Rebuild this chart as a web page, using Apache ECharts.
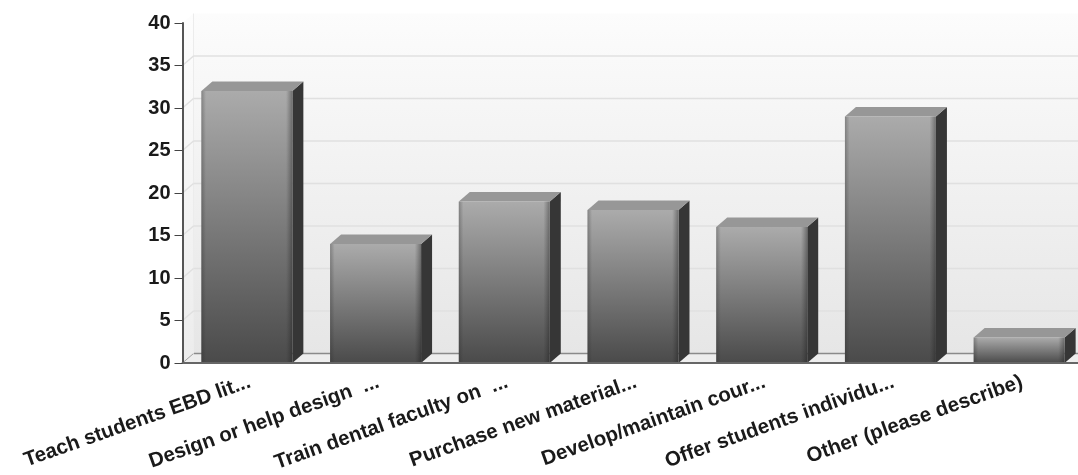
<!DOCTYPE html>
<html><head><meta charset="utf-8">
<style>html,body{margin:0;padding:0;background:#fff;overflow:hidden;width:1078px;height:475px}#c{width:1100px;height:475px}canvas{filter:blur(0.55px)}</style>
<script src="https://cdn.jsdelivr.net/npm/echarts@6/dist/echarts.min.js"></script>
</head><body><div id="c"></div>
<script>
const categories = ["Teach students EBD lit...","Design or help design  ...","Train dental faculty on  ...","Purchase new material...","Develop/maintain cour...","Offer students individu...","Other (please describe)"];
const values = [32,14,19,18,16,29,3];
const yTicks = [0,5,10,15,20,25,30,35,40];
const DX = 11, DY = 9.5;
const chart = echarts.init(document.getElementById('c'),null,{renderer:'canvas'});

function wallItem(params, api){
  const v = api.value(0);
  const p = api.coord([0, v]);
  const cs = params.coordSys;
  const x0 = cs.x, x1 = cs.x + cs.width, yb = cs.y + cs.height, yt = cs.y;
  const children = [];
  if (params.dataIndex === 0){
    children.push({type:'polygon',shape:{points:[[x0+DX,yt-DY],[x1+DX,yt-DY],[x1+DX,yb-DY],[x0+DX,yb-DY]]},
      style:{fill:new echarts.graphic.LinearGradient(0,0,0,1,[{offset:0,color:'#fcfcfc'},{offset:1,color:'#e6e6e6'}])}});
    children.push({type:'polygon',shape:{points:[[x0,yt],[x0+DX,yt-DY],[x0+DX,yb-DY],[x0,yb]]},
      style:{fill:new echarts.graphic.LinearGradient(0,0,0,1,[{offset:0,color:'#fdfdfd'},{offset:1,color:'#ececec'}])}});
    children.push({type:'polygon',shape:{points:[[x0,yb],[x0+DX,yb-DY],[x1+DX,yb-DY],[x1,yb]]},style:{fill:'#ededed'}});
    children.push({type:'line',shape:{x1:x0+DX,y1:yb-DY,x2:x1+DX,y2:yb-DY},style:{stroke:'#8a8a8a',lineWidth:1.5}});
    children.push({type:'line',shape:{x1:x0,y1:yb,x2:x0+DX,y2:yb-DY},style:{stroke:'#a0a0a0',lineWidth:1}});
    children.push({type:'line',shape:{x1:x0+DX,y1:yb-DY,x2:x0+DX,y2:yt-DY},style:{stroke:'#ececec',lineWidth:1}});
  } else if (v < 40) {
    children.push({type:'line',shape:{x1:x0,y1:p[1],x2:x0+DX,y2:p[1]-DY},style:{stroke:'#e0e0e0',lineWidth:1.5}});
    children.push({type:'line',shape:{x1:x0+DX,y1:p[1]-DY,x2:x1+DX,y2:p[1]-DY},style:{stroke:'#e0e0e0',lineWidth:1.5}});
  }
  return {type:'group',children};
}

function barItem(params, api){
  const i = api.value(0), v = api.value(1);
  const top = api.coord([i, v]), base = api.coord([i, 0]);
  const w = api.size([1,0])[0]*0.707;
  const l = top[0]-w/2, r = top[0]+w/2, t = top[1], b = base[1];
  const edge = new echarts.graphic.LinearGradient(0,0,1,0,[
    {offset:0,color:'rgba(40,40,40,0.3)'},{offset:0.05,color:'rgba(40,40,40,0)'},
    {offset:0.93,color:'rgba(40,40,40,0)'},{offset:1,color:'rgba(20,20,20,0.4)'}]);
  return {type:'group',children:[
    {type:'polygon',shape:{points:[[r,t],[r+DX,t-DY],[r+DX,b-DY],[r,b]]},style:{fill:'#363636'}},
    {type:'polygon',shape:{points:[[l,t],[l+DX,t-DY],[r+DX,t-DY],[r,t]]},style:{fill:'#979797'}},
    {type:'rect',shape:{x:l,y:t,width:w,height:b-t},style:{fill:new echarts.graphic.LinearGradient(0,0,0,1,[{offset:0,color:'#ababab'},{offset:1,color:'#4a4a4a'}])}},
    {type:'rect',shape:{x:l,y:t,width:w,height:b-t},style:{fill:edge}}
  ]};
}

chart.setOption({
  animation:false,
  backgroundColor:'#fff',
  grid:{left:182.5,top:23,width:901,height:340,containLabel:false,outerBoundsMode:'none'},
  xAxis:{type:'category',data:categories,boundaryGap:true,z:5,
    axisLine:{lineStyle:{color:'#666',width:2}},
    axisTick:{alignWithLabel:true,length:9,lineStyle:{color:'#444',width:1}},
    axisLabel:{rotate:19.5,interval:0,margin:10,
      formatter:v=>'{a|'+v+'}',
      rich:{a:{padding:[18,0,0,0],color:'#1a1a1a',fontFamily:'Liberation Sans',fontWeight:'bold',fontSize:20.5}},
      color:'#1a1a1a',fontFamily:'Liberation Sans',fontWeight:'bold',fontSize:20.5},
    splitLine:{show:false}},
  yAxis:{type:'value',min:0,max:40,interval:5,z:5,
    axisLine:{show:true,lineStyle:{color:'#555',width:2}},
    axisTick:{show:true,length:8,lineStyle:{color:'#444',width:1}},
    axisLabel:{margin:12,color:'#1a1a1a',fontFamily:'Liberation Sans',fontWeight:'bold',fontSize:20},
    splitLine:{show:false}},
  series:[
    {type:'custom',z:1,silent:true,clip:false,coordinateSystem:'cartesian2d',data:yTicks.map(v=>[v]),encode:{y:0},renderItem:wallItem},
    {type:'custom',z:2,silent:true,clip:false,coordinateSystem:'cartesian2d',data:values.map((v,i)=>[i,v]),encode:{x:0,y:1},renderItem:barItem}
  ]
});
</script></body></html>
